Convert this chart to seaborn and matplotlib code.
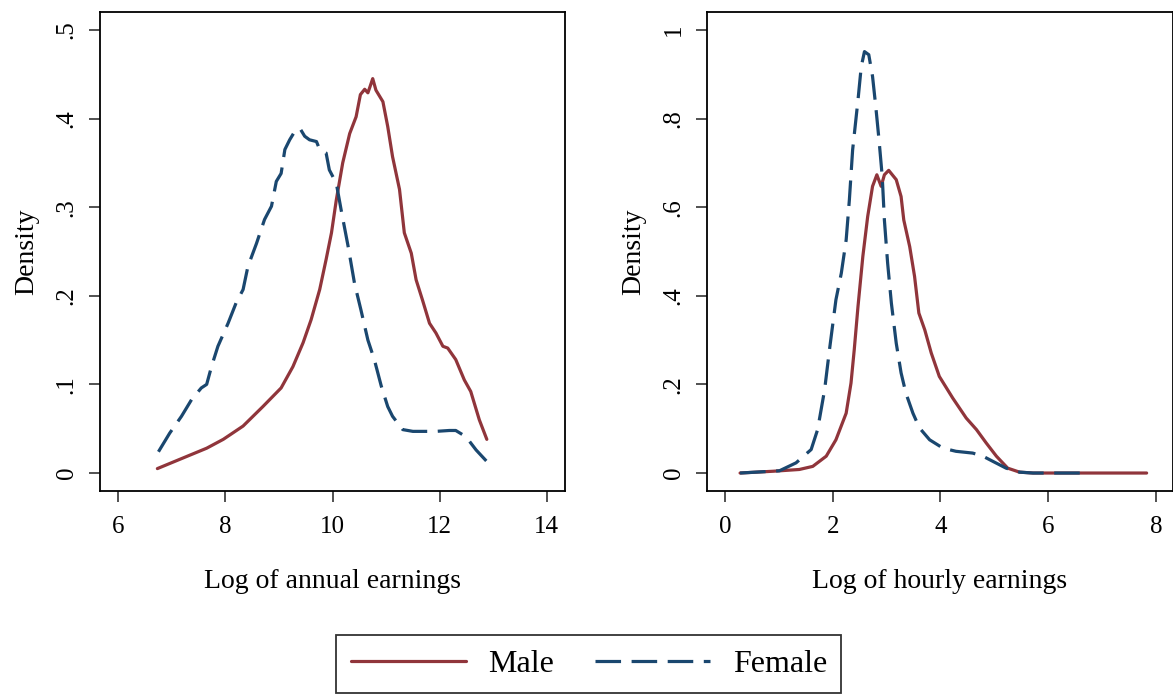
import numpy as np
import pandas as pd
import matplotlib
matplotlib.use("Agg")
import matplotlib.pyplot as plt
import seaborn as sns
from matplotlib.ticker import FuncFormatter

# annual earnings (log), density
annual_male_x = [6.73, 7.21, 7.65, 7.96, 8.33, 8.70, 9.04, 9.26, 9.45, 9.60, 9.76, 9.88,
                 9.98, 10.07, 10.19, 10.32, 10.44, 10.52, 10.60, 10.66, 10.70, 10.75,
                 10.81, 10.94, 11.03, 11.12, 11.25, 11.34, 11.47, 11.56, 11.68, 11.81,
                 11.93, 12.06, 12.15, 12.30, 12.46, 12.58, 12.74, 12.88]
annual_male_y = [0.005, 0.017, 0.028, 0.038, 0.053, 0.075, 0.096, 0.120, 0.147, 0.173,
                 0.207, 0.241, 0.271, 0.308, 0.350, 0.383, 0.402, 0.427, 0.433, 0.429,
                 0.436, 0.445, 0.432, 0.419, 0.391, 0.357, 0.320, 0.271, 0.248, 0.218,
                 0.195, 0.169, 0.158, 0.143, 0.141, 0.128, 0.105, 0.092, 0.060, 0.038]

annual_female_x = [6.75, 6.96, 7.18, 7.37, 7.55, 7.65, 7.74, 7.86, 8.05, 8.20, 8.33, 8.42,
                   8.58, 8.73, 8.86, 8.95, 9.04, 9.11, 9.20, 9.29, 9.39, 9.48, 9.57, 9.70,
                   9.76, 9.88, 9.94, 10.07, 10.16, 10.29, 10.41, 10.53, 10.66, 10.78,
                   10.91, 11.03, 11.12, 11.31, 11.50, 11.68, 11.93, 12.18, 12.30, 12.49,
                   12.68, 12.88]
annual_female_y = [0.024, 0.045, 0.064, 0.083, 0.096, 0.100, 0.120, 0.143, 0.169, 0.192,
                   0.207, 0.233, 0.259, 0.286, 0.301, 0.329, 0.338, 0.365, 0.376, 0.385,
                   0.389, 0.380, 0.376, 0.374, 0.365, 0.361, 0.342, 0.327, 0.297, 0.256,
                   0.214, 0.184, 0.150, 0.128, 0.098, 0.075, 0.064, 0.049, 0.047, 0.047,
                   0.047, 0.048, 0.048, 0.041, 0.026, 0.013]

# hourly earnings (log)
hourly_male_x = [0.28, 0.89, 1.38, 1.63, 1.88, 2.06, 2.25, 2.34, 2.40, 2.47, 2.56, 2.65,
                 2.74, 2.82, 2.90, 2.96, 3.04, 3.18, 3.27, 3.32, 3.43, 3.52, 3.60, 3.71,
                 3.83, 3.98, 4.23, 4.48, 4.67, 4.85, 5.04, 5.25, 5.47, 5.72, 6.50, 7.83]
hourly_male_y = [0.0, 0.004, 0.008, 0.015, 0.038, 0.075, 0.135, 0.203, 0.278, 0.376,
                 0.489, 0.579, 0.647, 0.673, 0.647, 0.673, 0.683, 0.662, 0.624, 0.571,
                 0.511, 0.444, 0.361, 0.323, 0.271, 0.218, 0.169, 0.124, 0.098, 0.068,
                 0.038, 0.011, 0.002, 0.0, 0.0, 0.0]

hourly_female_x = [0.28, 1.01, 1.32, 1.60, 1.72, 1.85, 1.94, 2.06, 2.16, 2.25, 2.31, 2.37,
                   2.47, 2.53, 2.59, 2.67, 2.74, 2.80, 2.86, 2.92, 2.96, 3.02, 3.09, 3.18,
                   3.27, 3.36, 3.49, 3.61, 3.80, 4.05, 4.29, 4.60, 4.79, 4.98, 5.22, 5.47,
                   5.72, 6.60]
hourly_female_y = [0.0, 0.005, 0.023, 0.053, 0.098, 0.188, 0.278, 0.391, 0.451, 0.526,
                   0.617, 0.729, 0.842, 0.917, 0.951, 0.944, 0.895, 0.827, 0.752, 0.669,
                   0.571, 0.474, 0.383, 0.293, 0.226, 0.180, 0.135, 0.102, 0.075, 0.056,
                   0.049, 0.045, 0.038, 0.026, 0.011, 0.002, 0.0, 0.0]

male_col = "#90353b"
female_col = "#1a476f"
dash = (8, 3.3)

sns.set_theme(style="white")
plt.rcParams['font.family'] = ['Liberation Serif', 'DejaVu Serif']
plt.rcParams['axes.edgecolor'] = 'black'
plt.rcParams['axes.linewidth'] = 1.3
plt.rcParams['text.color'] = 'black'
plt.rcParams['axes.labelcolor'] = 'black'
plt.rcParams['xtick.color'] = 'black'
plt.rcParams['ytick.color'] = 'black'


def dens_fmt(v, pos):
    if abs(v) < 1e-9:
        return "0"
    if abs(v - round(v)) < 1e-9:
        return str(int(round(v)))
    return ("%.1f" % v).lstrip("0")


fig = plt.figure(figsize=(11.73, 6.95), dpi=100)
ax1 = fig.add_axes([0.0853, 0.2935, 0.3964, 0.689])
ax2 = fig.add_axes([0.6027, 0.2935, 0.3973, 0.689])

panels = [
    (ax1, annual_male_x, annual_male_y, annual_female_x, annual_female_y,
     "Log of annual earnings", (5.66, 14.34), (-0.0203, 0.52), [6, 8, 10, 12, 14],
     [0, .1, .2, .3, .4, .5]),
    (ax2, hourly_male_x, hourly_male_y, hourly_female_x, hourly_female_y,
     "Log of hourly earnings", (-0.335, 8.32), (-0.0406, 1.04), [0, 2, 4, 6, 8],
     [0, .2, .4, .6, .8, 1]),
]

for ax, mx, my, fx, fy, xlab, xl, yl, xt, yt in panels:
    sns.lineplot(x=mx, y=my, ax=ax, color=male_col, lw=2.3, sort=False,
                 estimator=None, label="Male")
    sns.lineplot(x=fx, y=fy, ax=ax, color=female_col, lw=2.3, sort=False,
                 estimator=None, label="Female", dashes=False)
    ax.lines[-1].set_dashes(dash)
    ax.set_xlim(*xl)
    ax.set_ylim(*yl)
    ax.set_xticks(xt)
    ax.set_yticks(yt)
    ax.yaxis.set_major_formatter(FuncFormatter(dens_fmt))
    ax.tick_params(axis='both', direction='out', length=8, width=1.2,
                   color='#333333', labelsize=18, labelcolor='black',
                   bottom=True, left=True)
    ax.tick_params(axis='x', pad=10)
    ax.tick_params(axis='y', pad=8)
    for lbl in ax.get_yticklabels():
        lbl.set_rotation(90)
        lbl.set_va('center')
    ax.set_xlabel(xlab, fontsize=20, labelpad=22)
    ax.set_ylabel("Density", fontsize=20, labelpad=12)
    ax.legend_.remove()
    ax.set_facecolor('white')

handles, labels = ax1.get_legend_handles_labels()
leg = fig.legend(handles, labels, loc='lower center', bbox_to_anchor=(0.502, 0.0),
                 ncol=2, fontsize=23, frameon=True, fancybox=False,
                 handlelength=3.6, columnspacing=1.3, borderpad=0.45,
                 handletextpad=0.7, borderaxespad=0.05)
leg.get_frame().set_edgecolor('black')
leg.get_frame().set_linewidth(1.3)

fig.savefig("out.png", dpi=100, facecolor='white')
